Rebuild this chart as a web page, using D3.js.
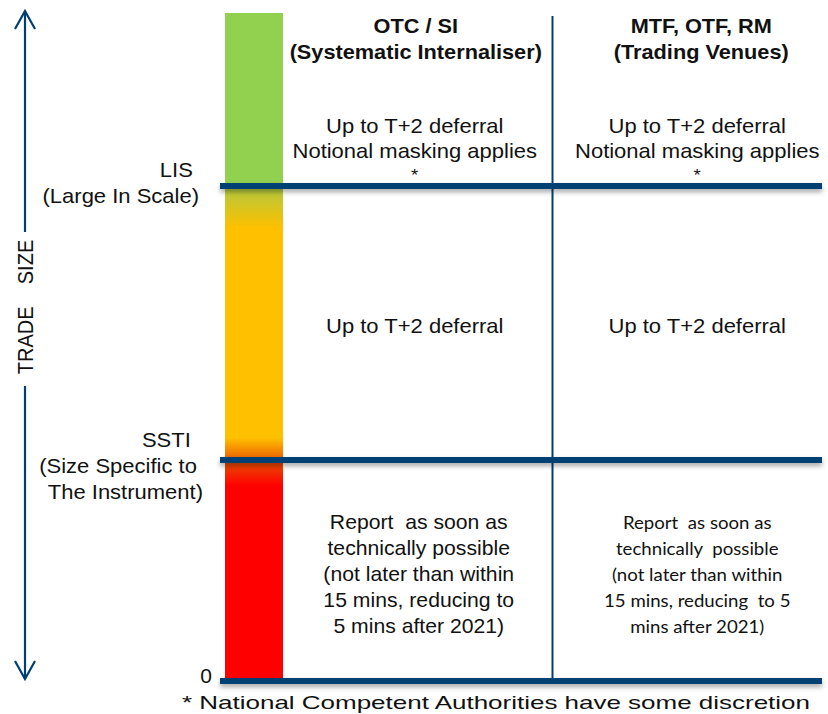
<!DOCTYPE html>
<html>
<head>
<meta charset="utf-8">
<script src="https://cdn.jsdelivr.net/npm/d3@7"></script>
<style>
  body { margin: 0; background: #fff; }
  svg { display: block; }
  text { white-space: pre; }
</style>
</head>
<body>
<svg id="chart" width="828" height="714"></svg>
<script>
// thresholds from bottom to top
var levels = ["0", "SSTI", "LIS", "top"];
var levelLabels = [["0"], ["SSTI  ", "(Size Specific to ", "The Instrument)"], ["LIS ", "(Large In Scale)"], []];
var venues = ["OTC / SI", "MTF, OTF, RM"];
var venueSub = ["(Systematic Internaliser)", "(Trading Venues)"];
// cell texts per band (bottom band first), per venue
var cells = [
  [["Report  as soon as", "technically possible", "(not later than within", "15 mins, reducing to", "5 mins after 2021)"],
   ["Report  as soon as", "technically  possible", "(not later than within", "15 mins, reducing  to 5", "mins after 2021)"]],
  [["Up to T+2 deferral"], ["Up to T+2 deferral"]],
  [["Up to T+2 deferral", "Notional masking applies", "*"], ["Up to T+2 deferral", "Notional masking applies", "*"]]
];
var footnote = "* National Competent Authorities have some discretion";

var svg = d3.select("#chart"),
  navy = "#003f73",
  font = "Liberation Sans, Arial, sans-serif",
  sx = 1.1; // text in the picture is a little wide

var y = d3.scaleOrdinal(levels, [681, 460, 186, 13]);
var x = d3.scaleBand(venues, [283, 822]);
var barX = 225, barW = 58;

var defs = svg.append("defs");
var grad = defs.append("linearGradient").attr("id", "sizeGrad")
  .attr("x1", 0).attr("x2", 0).attr("y1", 0).attr("y2", 1);
var yTop = y("top"), span = y("0") - y("top");
function off(v) { return ((v - yTop) / span * 100) + "%"; }
[[y("LIS") - 3, "#92d050"], [y("LIS") + 3, "#b4c83c"], [y("LIS") + 42, "#ffc000"],
 [y("SSTI") - 22, "#ffc000"], [y("SSTI") - 3, "#ee6a00"], [y("SSTI") + 3, "#ea4a00"],
 [y("SSTI") + 26, "#ff0000"]].forEach(function (s) {
  grad.append("stop").attr("offset", off(s[0])).attr("stop-color", s[1]);
});
var sh = defs.append("filter").attr("id", "shadow")
  .attr("x", "-5%").attr("y", "-100%").attr("width", "110%").attr("height", "400%");
sh.append("feDropShadow").attr("dx", 0).attr("dy", 3).attr("stdDeviation", 2.5)
  .attr("flood-color", "#000").attr("flood-opacity", 0.35);

svg.append("rect").attr("x", barX).attr("y", yTop).attr("width", barW).attr("height", span)
  .attr("fill", "url(#sizeGrad)");

// vertical divider
svg.append("line").attr("x1", x(venues[1])).attr("x2", x(venues[1]))
  .attr("y1", 16).attr("y2", y("0"))
  .attr("stroke", navy).attr("stroke-width", 2);

// horizontal threshold lines
svg.selectAll("rect.level").data(levels.slice(0, 3)).join("rect")
  .attr("class", "level")
  .attr("x", 220).attr("width", 602)
  .attr("y", function (d) { return y(d) - 3; }).attr("height", 6)
  .attr("fill", navy).attr("filter", "url(#shadow)");

// multi-line text, slightly stretched
function block(cx, y0, lines, lh, opts) {
  var g = svg.append("g").attr("transform", "translate(" + cx + ",0) scale(" + (opts.sx || sx) + ",1)");
  var t = g.append("text").attr("text-anchor", opts.anchor || "middle")
    .attr("font-family", opts.family || font).attr("font-size", opts.size || 20)
    .attr("font-weight", opts.weight || "normal").attr("fill", "#111");
  lines.forEach(function (s, j) {
    t.append("tspan").attr("x", 0).attr("y", y0 + j * lh).text(s);
  });
  return t;
}

// level labels
block(212, y("0") + 2, ["0"], 0, { anchor: "end", sx: 1, size: 21 });
block(199, y("LIS") - 9, levelLabels[2], 26, { anchor: "end" });
block(203, y("SSTI") - 13, levelLabels[1], 26, { anchor: "end" });

// headers
venues.forEach(function (v, i) {
  var cx = x(v) + x.bandwidth() / 2 + (i === 0 ? -2 : 14);
  block(cx, 33, [v, venueSub[i]], 26, { weight: "bold", size: 20.5, sx: 1.06 });
});

// cells
var bandMid = [(y("0") + y("SSTI")) / 2, (y("SSTI") + y("LIS")) / 2];
cells.forEach(function (row, b) {
  row.forEach(function (lines, i) {
    var cx = x(venues[i]) + x.bandwidth() / 2 + (i === 0 ? -3 : 10);
    if (b === 2) {
      block(cx, 133, lines.slice(0, 2), 25, {});
      block(cx, 181, lines.slice(2), 0, { size: 17 });
    } else if (b === 1) {
      block(cx, bandMid[b] + 10, lines, 26, {});
    } else {
      var narrow = i === 1;
      block(cx + (narrow ? 0 : 4), 529, lines, 26, narrow
        ? { family: "Lato, 'Open Sans', sans-serif", size: 16.5, sx: 1.13 }
        : { sx: 1.06 });
    }
  });
});

// trade size arrow
var ax = 25;
svg.append("line").attr("x1", ax).attr("x2", ax).attr("y1", 11).attr("y2", 232)
  .attr("stroke", navy).attr("stroke-width", 2.2);
svg.append("line").attr("x1", ax).attr("x2", ax).attr("y1", 386).attr("y2", 679)
  .attr("stroke", navy).attr("stroke-width", 2.2);
svg.append("path").attr("d", "M" + (ax - 10) + ",29L" + ax + ",11L" + (ax + 10) + ",29")
  .attr("fill", "none").attr("stroke", navy).attr("stroke-width", 2.2);
svg.append("path").attr("d", "M" + (ax - 10) + ",661L" + ax + ",679L" + (ax + 10) + ",661")
  .attr("fill", "none").attr("stroke", navy).attr("stroke-width", 2.2);
svg.append("text").attr("transform", "translate(" + (ax + 8) + ",307) rotate(-90) scale(1,1.1)")
  .attr("text-anchor", "middle").attr("font-family", font).attr("font-size", 20)
  .attr("fill", "#111").text("TRADE    SIZE");

// footnote
svg.append("text").attr("x", 182).attr("y", 709)
  .attr("font-family", "'Liberation Sans Narrow', 'Arial Narrow', 'Liberation Sans', sans-serif")
  .attr("font-size", 18.5).attr("fill", "#111")
  .attr("textLength", 628).attr("lengthAdjust", "spacingAndGlyphs")
  .text(footnote);
</script>
</body>
</html>
